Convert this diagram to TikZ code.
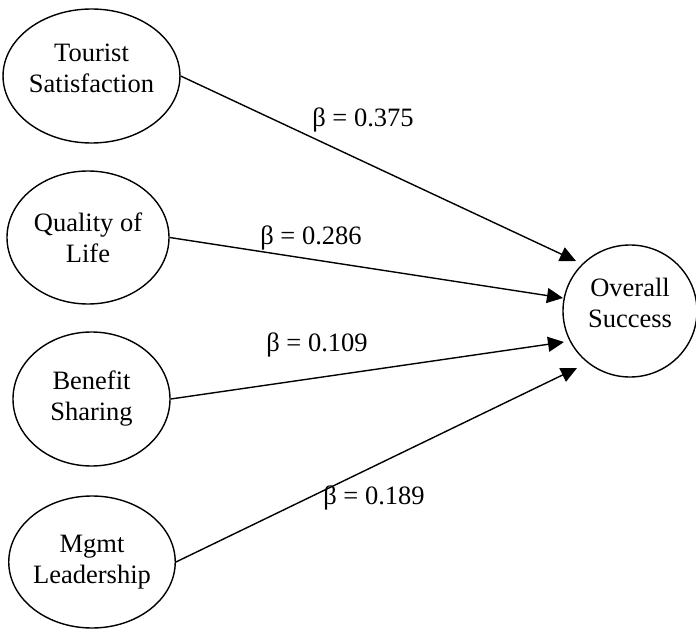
\documentclass[tikz,border=0pt]{standalone}
\usepackage{fontspec}
\setmainfont{Liberation Serif}
\usetikzlibrary{shapes.geometric,arrows.meta}
\tikzset{
  var/.style={ellipse,draw,line width=1.4pt,inner sep=0pt,align=center,
    font=\fontsize{26.5}{31}\selectfont},
  raised/.style={text depth=16pt},
  path/.style={line width=1.4pt,-{Triangle[length=16pt,width=15pt]}},
  beta/.style={font=\fontsize{26.5}{31}\selectfont,inner sep=0pt}
}
\begin{document}
\begin{tikzpicture}[x=1pt,y=-1pt]
\useasboundingbox (0,0) rectangle (696,631);
\node[var,raised,minimum width=157pt,minimum height=134pt] (ts) at (91.5,76) {Tourist\\Satisfaction};
\node[var,minimum width=162pt,minimum height=133pt] (ql) at (88,237.5) {Quality of\\Life};
\node[var,minimum width=157pt,minimum height=134pt] (bs) at (91.5,399) {Benefit\\Sharing};
\node[var,minimum width=150pt,minimum height=132pt] (ml) at (92,562) {Mgmt\\Leadership};
\node[var,raised,minimum width=134pt,minimum height=132pt] (os) at (630,311) {Overall\\Success};
\coordinate (t1) at (576,261);
\coordinate (t2) at (563,298);
\coordinate (t3) at (564,342);
\coordinate (t4) at (577,368);
\draw[path] (ts.east) -- (t1);
\draw[path] (ql.east) -- (t2);
\draw[path] (bs.east) -- (t3);
\draw[path] (ml.east) -- (t4);
\node[beta] (b1) at (363,120) {β = 0.375};
\node[beta] (b2) at (311,238) {β = 0.286};
\node[beta] (b3) at (317,345) {β = 0.109};
\node[beta] (b4) at (374,498) {β = 0.189};
\end{tikzpicture}
\end{document}
